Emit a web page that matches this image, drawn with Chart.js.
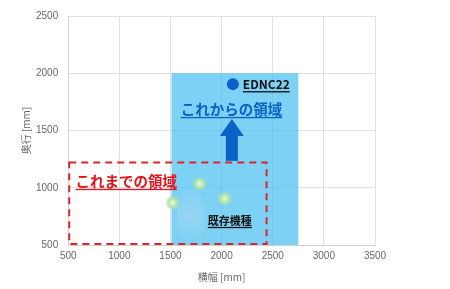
<!DOCTYPE html>
<html>
<head>
<meta charset="utf-8">
<script src="https://cdn.jsdelivr.net/npm/chart.js@4.4.0/dist/chart.umd.min.js"></script>
<style>
  html, body { margin: 0; padding: 0; background: #fff; }
  #wrap { width: 450px; height: 289px; }
</style>
</head>
<body>
<div id="wrap"><canvas id="myChart" width="450" height="289"></canvas></div>
<script>
// existing models (x = width mm, y = depth mm)
var existingX = [1520, 1785, 2030];
var existingY = [870, 1035, 905];
// new model
var newName = "EDNC22";
var newX = [2110];
var newY = [1905];

// regions [xmin, xmax, ymin, ymax]
var futureRegion = [1510, 2750, 500, 2000];
var pastRegion = [500, 2430, 500, 1220];
// arrow [x, yFrom, yTo]
var arrowPos = [2100, 1235, 1600];

var xTicks = [500, 1000, 1500, 2000, 2500, 3000, 3500];
var yTicks = [500, 1000, 1500, 2000, 2500];

var jpFont = "'Noto Sans CJK JP', sans-serif";
var numFont = "'Liberation Sans', Arial, sans-serif";

function glow(ctx) {
    var c = ctx.chart.ctx;
    var el = ctx.element;
    if (!el || el.x === undefined) return 'rgba(160,220,150,0.8)';
    var g = c.createRadialGradient(el.x, el.y, 0, el.x, el.y, 7);
    g.addColorStop(0, 'rgba(235,250,230,1)');
    g.addColorStop(0.6, 'rgba(175,228,165,0.95)');
    g.addColorStop(1, 'rgba(175,228,165,0.35)');
    return g;
}

var regionPlugin = {
    id: 'regions',
    beforeDatasetsDraw: function (chart) {
        var c = chart.ctx, xs = chart.scales.x, ys = chart.scales.y;
        c.save();
        // blue future region
        var x1 = xs.getPixelForValue(futureRegion[0]), x2 = xs.getPixelForValue(futureRegion[1]);
        var y1 = ys.getPixelForValue(futureRegion[3]), y2 = ys.getPixelForValue(futureRegion[2]);
        c.fillStyle = 'rgba(70,190,240,0.7)';
        c.fillRect(x1, y1, x2 - x1, y2 - y1);

        // faint light cone under existing points
        var cx = xs.getPixelForValue(1700), cy = ys.getPixelForValue(760);
        var g = c.createRadialGradient(cx, cy, 0, cx, cy, 28);
        g.addColorStop(0, 'rgba(190,220,245,0.4)');
        g.addColorStop(1, 'rgba(190,220,245,0)');
        c.fillStyle = g;
        c.beginPath();
        c.ellipse(cx, cy, 14, 30, 0, 0, Math.PI * 2);
        c.fill();

        // red dashed past region
        var px1 = xs.getPixelForValue(pastRegion[0]), px2 = xs.getPixelForValue(pastRegion[1]);
        var py1 = ys.getPixelForValue(pastRegion[3]), py2 = ys.getPixelForValue(pastRegion[2]);
        c.strokeStyle = '#d9262b';
        c.lineWidth = 2;
        c.setLineDash([7, 5]);
        c.strokeRect(px1 + 1, py1, px2 - px1, py2 - py1 - 1);
        c.setLineDash([]);

        // arrow
        var ax = xs.getPixelForValue(arrowPos[0]);
        var ay1 = ys.getPixelForValue(arrowPos[1]), ay2 = ys.getPixelForValue(arrowPos[2]);
        c.fillStyle = '#0a62c6';
        c.fillRect(ax - 6, ay2 + 16, 12, ay1 - ay2 - 16);
        c.beginPath();
        c.moveTo(ax, ay2);
        c.lineTo(ax + 12, ay2 + 17);
        c.lineTo(ax - 12, ay2 + 17);
        c.closePath();
        c.fill();
        c.restore();
    },
    afterDatasetsDraw: function (chart) {
        var c = chart.ctx, xs = chart.scales.x, ys = chart.scales.y;
        function label(text, vx, vy, color, size, dx, dy) {
            var x = xs.getPixelForValue(vx) + (dx || 0);
            var y = ys.getPixelForValue(vy) + (dy || 0);
            c.font = 'bold ' + size + 'px ' + jpFont;
            c.fillStyle = color;
            c.textBaseline = 'alphabetic';
            c.textAlign = 'left';
            c.fillText(text, x, y);
            var w = c.measureText(text).width;
            c.fillRect(x, y + 2, w, 1.3);
        }
        c.save();
        label(newName, newX[0], newY[0], '#111', 12, 10, 5);
        label('これからの領域', 1600, 1636, '#0a62c6', 14.5);
        label('これまでの領域', 570, 1008, '#e0141c', 14.5);
        label('既存機種', 1865, 676, '#111', 11);
        c.restore();
    }
};

new Chart("myChart", {
    type: "scatter",
    data: {
        datasets: [{
            label: "既存機種",
            data: existingX.map(function (x, i) { return { x: x, y: existingY[i] }; }),
            pointRadius: 7,
            pointHoverRadius: 7,
            borderWidth: 0,
            backgroundColor: glow
        }, {
            label: newName,
            data: newX.map(function (x, i) { return { x: x, y: newY[i] }; }),
            pointRadius: 6,
            pointHoverRadius: 6,
            borderWidth: 0,
            backgroundColor: '#0a62c6'
        }]
    },
    plugins: [regionPlugin],
    options: {
        responsive: false,
        animation: false,
        layout: { padding: { left: 20, right: 75, top: 8, bottom: 2 } },
        plugins: { legend: { display: false }, tooltip: { enabled: false } },
        scales: {
            x: {
                type: 'linear',
                min: xTicks[0],
                max: xTicks[xTicks.length - 1],
                afterBuildTicks: function (axis) { axis.ticks = xTicks.map(function (v) { return { value: v }; }); },
                grid: { color: '#e0e0e0', drawTicks: false },
                border: { color: '#d0d0d0' },
                ticks: { color: '#666', font: { size: 10, family: numFont }, padding: 5, callback: function (v) { return String(v); } },
                title: { display: true, text: '横幅 [mm]', color: '#666', font: { size: 10, family: jpFont }, padding: { top: 4 } }
            },
            y: {
                type: 'linear',
                min: yTicks[0],
                max: yTicks[yTicks.length - 1],
                afterBuildTicks: function (axis) { axis.ticks = yTicks.map(function (v) { return { value: v }; }); },
                afterFit: function (axis) { axis.width -= 6; },
                grid: { color: '#e0e0e0', drawTicks: false },
                border: { color: '#d0d0d0' },
                ticks: { color: '#666', font: { size: 10, family: numFont }, padding: 10, callback: function (v) { return String(v); } },
                title: { display: true, text: '奥行 [mm]', color: '#666', font: { size: 10, family: jpFont }, padding: { top: 0, bottom: 0 } }
            }
        }
    }
});
</script>
</body>
</html>
